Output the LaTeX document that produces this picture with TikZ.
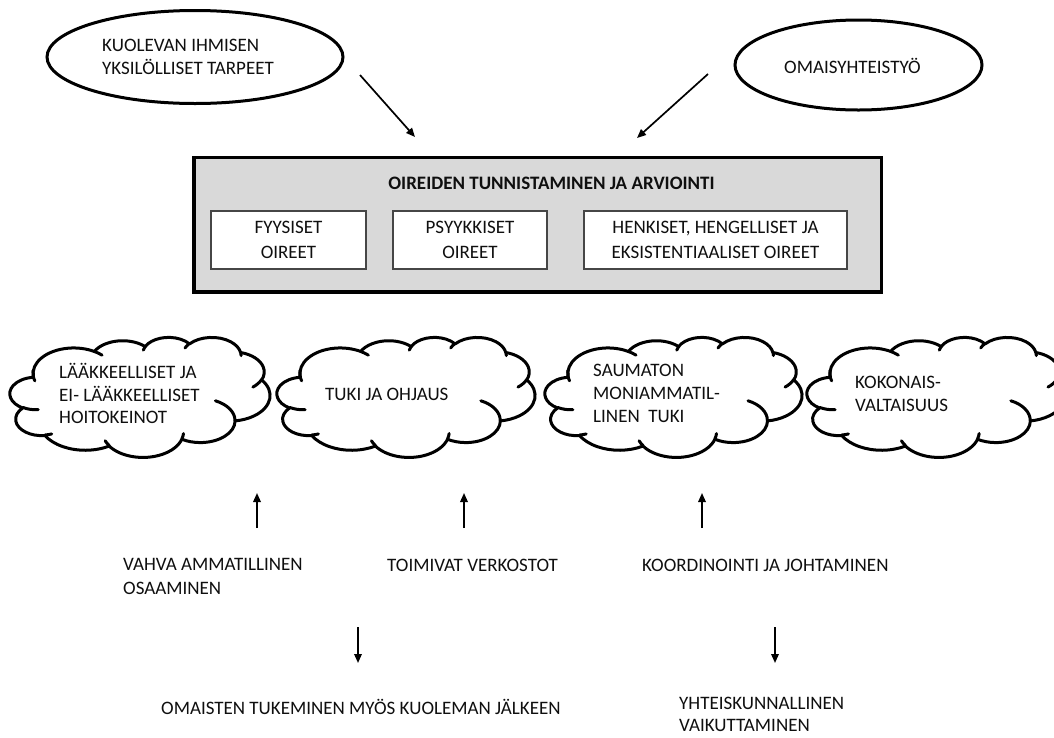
\documentclass[tikz,border=0pt]{standalone}
\usepackage{fontspec}
\setmainfont{Carlito}
\usetikzlibrary{arrows.meta,shapes.geometric}
\definecolor{boxgray}{RGB}{217,217,217}
\definecolor{txt}{RGB}{15,15,15}
\definecolor{innerline}{RGB}{70,70,70}
\def\cW{100}\def\cH{100}
\tikzset{
  ooarc/.style args={#1/#2/#3/#4}{/utils/exec={%
    \pgfmathsetmacro\ooTs{atan2(#1*sin(#3),#2*cos(#3))}%
    \pgfmathsetmacro\ooTe{atan2(#1*sin(#3+#4),#2*cos(#3+#4))}%
    \pgfmathsetmacro\ooTd{Mod(\ooTe-\ooTs,360)}%
    \pgfmathsetmacro\ooS{-1*(\ooTs)}%
    \pgfmathsetmacro\ooD{-1*(\ooTd)}%
    \pgfmathsetmacro\ooRx{#1/43.2/1000*\cW}%
    \pgfmathsetmacro\ooRy{#2/43.2/1000*\cH}},
    insert path={arc[x radius=\ooRx pt, y radius=\ooRy pt, start angle=\ooS, delta angle=\ooD]}},
  cloudline/.style={line width=3pt, line join=round, line cap=round},
  oval/.style={ellipse, draw, line width=3pt, inner sep=0pt},
  lbl/.style={font=\fontsize{19pt}{23.5pt}\selectfont, text=txt, inner sep=0pt, align=left},
  ttl/.style={font=\bfseries\fontsize{19pt}{23.5pt}\selectfont, text=txt, inner sep=0pt},
  inbox/.style={draw=innerline, line width=1.1pt, fill=white, inner sep=0pt, align=center,
    text=txt, font=\fontsize{19pt}{25pt}\selectfont},
  arr/.style={-{Triangle[length=9pt,width=7.5pt]}, line width=1.7pt},
}
\newcommand\cp[2]{({#1*\cW},{#2*\cH})}
\newcommand\ppcloud[4]{%
  \def\cW{#3}\def\cH{#4}%
  \begin{scope}[shift={(#1,#2)}]
    \draw[cloudline, fill=white] \cp{0.090278}{0.332639}
      [ooarc={6753/9190/-190.4875/123.7805}]
      [ooarc={5333/7267/-144.1024/89.9452}]
      [ooarc={4365/5945/-145.8079/99.7230}]
      [ooarc={4857/6595/-130.9861/117.2417}]
      [ooarc={5333/7273/-78.7089/109.0269}]
      [ooarc={6775/9220/-46.2673/130.2690}]
      [ooarc={5785/7867/0.6250/114.0333}]
      [ooarc={6752/9215/22.4516/115.1726}]
      [ooarc={7720/10543/66.2426/75.7110}]
      [ooarc={4360/5918/-274.9421/146.7356}]
      [ooarc={4345/5945/-246.8285/152.5189}] -- cycle;
    \draw[cloudline]
      \cp{0.108634}{0.605949} [ooarc={4345/5945/86.7420/26.4295}]
      \cp{0.160370}{0.807847} [ooarc={4360/5918/73.6105/11.4475}]
      \cp{0.381435}{0.904861} [ooarc={6752/9215/137.6242/14.0811}]
      \cp{0.667292}{0.804421} [ooarc={6752/9215/6.4533/15.9984}]
      \cp{0.790023}{0.531343} [ooarc={5785/7867/-70.2924/70.9174}]
      \cp{0.967546}{0.355417} [ooarc={5333/7273/30.3180/27.7515}]
      \cp{0.887130}{0.125602} [ooarc={4857/6595/-13.7443/14.8589}]
      \cp{0.673102}{0.091481} [ooarc={4857/6595/-149.1815/18.1954}]
      \cp{0.512523}{0.109259} [ooarc={4365/5945/-163.4943/17.6864}]
      \cp{0.324074}{0.120185} [ooarc={6753/9190/-66.7070/12.3194}]
      \cp{0.095532}{0.365486} [ooarc={6753/9190/156.6254/32.1960}];
  \end{scope}}
\begin{document}
\begin{tikzpicture}[x=1pt,y=-1pt]
\useasboundingbox[fill=white] (0,0) rectangle (1054,737);
\clip (0,0) rectangle (1054,737);

% top ellipses
\node[oval, minimum width=296pt, minimum height=93pt] (e1) at (195,57) {};
\node[lbl, anchor=west] (t1) at (102,57) {KUOLEVAN IHMISEN\\YKSILÖLLISET TARPEET};
\node[oval, minimum width=247pt, minimum height=90pt] (e2) at (858.5,65) {};
\node[lbl] (t2) at (852.5,66) {OMAISYHTEISTYÖ};

\coordinate (a1s) at (360,75);
\coordinate (a1e) at (415,137);
\coordinate (a2s) at (708,74);
\coordinate (a2e) at (637,138);
\draw[arr] (a1s) -- (a1e);
\draw[arr] (a2s) -- (a2e);

% main grey box
\node[draw, line width=3.5pt, fill=boxgray, minimum width=687.3pt, minimum height=134.5pt,
      inner sep=0pt] (box) at (537.6,224.75) {};
\node[ttl] (title) at (551.5,183.5) {OIREIDEN TUNNISTAMINEN JA ARVIOINTI};
\node[inbox, minimum width=155pt, minimum height=58pt] (b1) at (288.5,240) {FYYSISET\\OIREET};
\node[inbox, minimum width=154pt, minimum height=58pt] (b2) at (470,240) {PSYYKKISET\\OIREET};
\node[inbox, minimum width=263pt, minimum height=58pt] (b3) at (715.5,240) {HENKISET, HENGELLISET JA\\EKSISTENTIAALISET OIREET};

% clouds
\ppcloud{10}{337}{260}{120}
\ppcloud{277}{337}{258}{120}
\ppcloud{545}{337}{257}{120}
\ppcloud{807}{337}{258}{120}
\node[lbl, anchor=west, font=\fontsize{19pt}{22.5pt}\selectfont] (c1) at (59,393.5) {LÄÄKKEELLISET JA\\EI- LÄÄKKEELLISET\\HOITOKEINOT};
\node[lbl, anchor=west] (c2) at (325,394) {TUKI JA OHJAUS};
\node[lbl, anchor=west, font=\fontsize{19pt}{23pt}\selectfont] (c3) at (593,393.5) {SAUMATON\\MONIAMMATIL-\\LINEN\ \ TUKI};
\node[lbl, anchor=west] (c4) at (855,394) {KOKONAIS-\\VALTAISUUS};

% lower labels
\node[lbl, anchor=west] (l1) at (123,576.5) {VAHVA AMMATILLINEN\\OSAAMINEN};
\node[lbl, anchor=west] (l2) at (387,565) {TOIMIVAT VERKOSTOT};
\node[lbl, anchor=west] (l3) at (642,565) {KOORDINOINTI JA JOHTAMINEN};
\node[lbl, anchor=west] (l4) at (161,707) {OMAISTEN TUKEMINEN MYÖS KUOLEMAN JÄLKEEN};
\node[lbl, anchor=west, font=\fontsize{19pt}{22.5pt}\selectfont] (l5) at (679,714.5) {YHTEISKUNNALLINEN\\VAIKUTTAMINEN};

\coordinate (u1s) at (257,528); \coordinate (u1e) at (257,493);
\coordinate (u2s) at (464,528); \coordinate (u2e) at (464,493);
\coordinate (u3s) at (702,528); \coordinate (u3e) at (702,493);
\draw[arr] (u1s) -- (u1e);
\draw[arr] (u2s) -- (u2e);
\draw[arr] (u3s) -- (u3e);
\coordinate (d1s) at (358,627); \coordinate (d1e) at (358,663);
\coordinate (d2s) at (775,627); \coordinate (d2e) at (775,663);
\draw[arr] (d1s) -- (d1e);
\draw[arr] (d2s) -- (d2e);
\end{tikzpicture}
\end{document}
